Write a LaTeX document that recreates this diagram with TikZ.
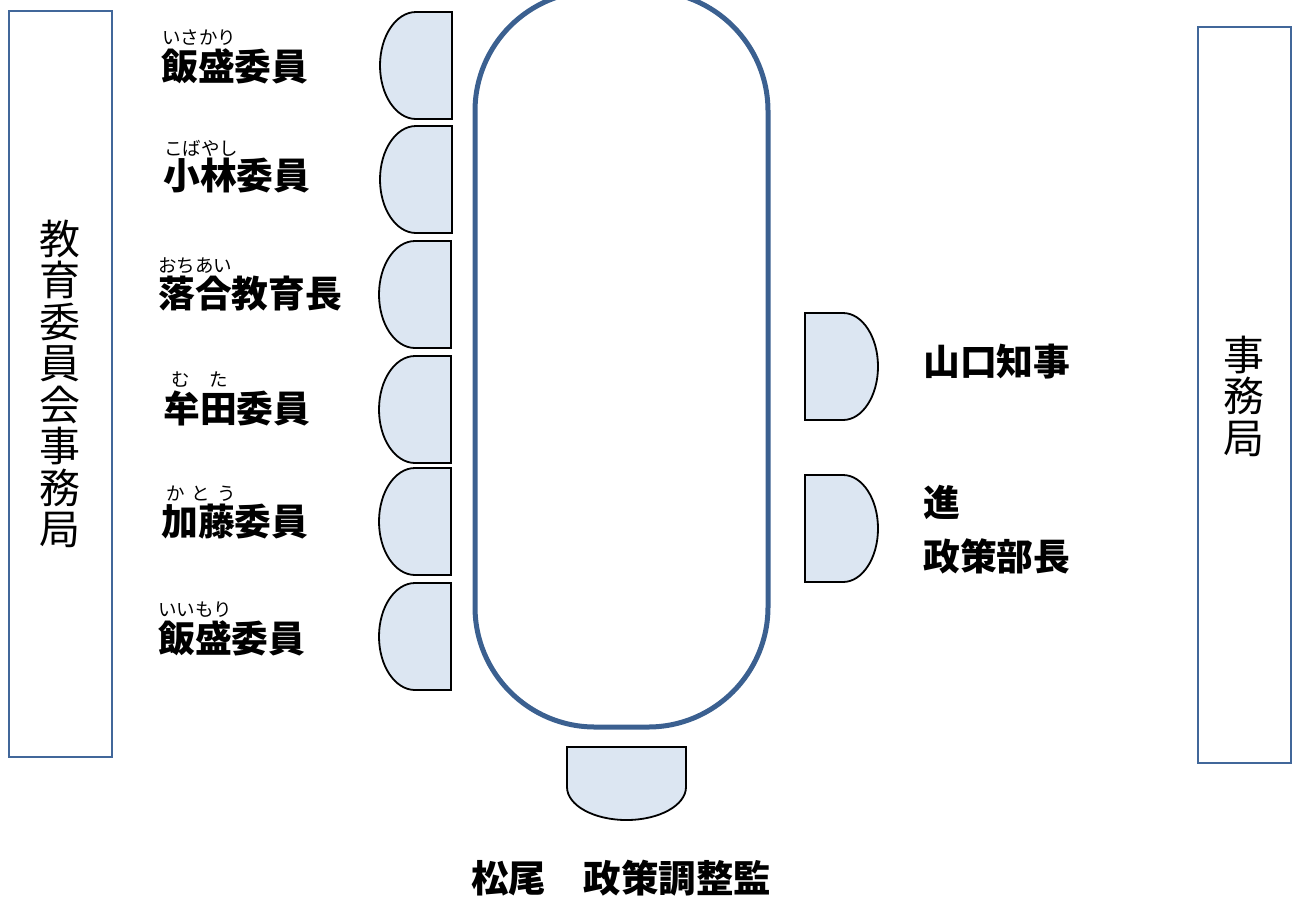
\documentclass[tikz,border=0pt]{standalone}
\usepackage{fontspec}
\newfontfamily\jp{Noto Sans CJK JP}
\definecolor{tableblue}{RGB}{59,96,144}
\definecolor{boxblue}{RGB}{65,103,154}
\definecolor{chairfill}{RGB}{220,230,242}
\tikzset{
  chair/.style={draw=black, line width=1.8pt, fill=chairfill},
  tablebox/.style={draw=tableblue, line width=5pt, rounded corners=120pt},
  sidebox/.style={draw=boxblue, line width=2pt},
  lbl/.style={anchor=west, inner sep=0pt, font=\jp\bfseries\fontsize{36.8}{36.8}\selectfont},
  ruby/.style={anchor=west, inner sep=0pt, font=\jp\fontsize{18.5}{18.5}\selectfont},
  vtext/.style={inner sep=0pt, align=center, font=\jp\fontsize{41}{41.5}\selectfont}
}
\begin{document}
\begin{tikzpicture}[x=1pt,y=-1pt]
\useasboundingbox (0,0) rectangle (1292,898);
\clip (0,0) rectangle (1292,898);
% side boxes
\draw[sidebox] (9,11) rectangle (112,757);
\node[vtext] (leftstaff) at (60,384) {教\\育\\委\\員\\会\\事\\務\\局};
\draw[sidebox] (1198,27) rectangle (1291,763);
\node[vtext] (rightstaff) at (1244,396) {事\\務\\局};
% table
\draw[tablebox] (475,-9) rectangle (768,727);
% left chairs
\foreach \t/\r in {12/452,126/452,241/451,356/451,468/451,583/451}{
  \draw[chair] (\r,\t) -- (\r-36,\t) arc[start angle=90,end angle=270,x radius=36pt,y radius=53.5pt] -- (\r,\t+107) -- cycle;
}
% right chairs
\foreach \t in {313,475}{
  \draw[chair] (805,\t) -- (843,\t) arc[start angle=90,end angle=-90,x radius=35pt,y radius=53.5pt] -- (805,\t+107) -- cycle;
}
% bottom chair
\draw[chair] (567,747) -- (686,747) -- (686,787) arc[start angle=0,end angle=-180,x radius=59.5pt,y radius=33pt] -- cycle;
% left labels
\node[ruby] (r1) at (162,38) {いさかり};
\node[lbl] (n1) at (161,66) {飯盛委員};
\node[ruby] (r2) at (164,148) {こばやし};
\node[lbl] (n2) at (163,176) {小林委員};
\node[ruby] (r3) at (158,266) {おちあい};
\node[lbl] (n3) at (158,294) {落合教育長};
\node[ruby] (r4) at (171,380) {む\hspace{20pt}た};
\node[lbl] (n4) at (163,408) {牟田委員};
\node[ruby] (r5) at (166,494) {か\hspace{7pt}と\hspace{7pt}う};
\node[lbl] (n5) at (161,522) {加藤委員};
\node[ruby] (r6) at (158,610) {いいもり};
\node[lbl] (n6) at (158,638) {飯盛委員};
% right labels
\node[lbl] (gov) at (923,362) {山口知事};
\node[lbl] (shin) at (923,502) {進};
\node[lbl] (bucho) at (923,556) {政策部長};
% bottom label
\node[lbl, anchor=center, font=\jp\bfseries\fontsize{37.5}{37.5}\selectfont] (matsuo) at (621,878) {松尾　政策調整監};
\end{tikzpicture}
\end{document}
